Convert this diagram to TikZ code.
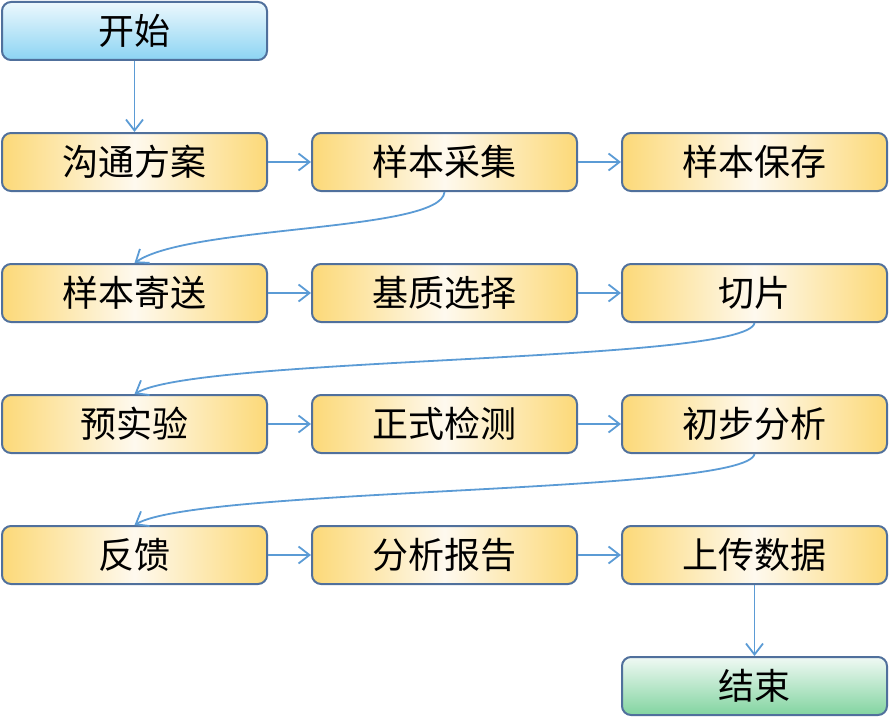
\documentclass[tikz,border=0pt]{standalone}
\usepackage{fontspec}
\newfontfamily\cjk{Noto Sans CJK SC}
\usetikzlibrary{arrows.meta}
\definecolor{bord}{RGB}{80,112,156}
\definecolor{arr}{RGB}{91,155,213}
\definecolor{ylw}{RGB}{252,217,120}
\definecolor{ymid}{RGB}{254,249,238}
\definecolor{bluetop}{RGB}{236,248,253}
\definecolor{bluebot}{RGB}{140,212,243}
\definecolor{greentop}{RGB}{240,249,244}
\definecolor{greenbot}{RGB}{130,212,160}
\tikzset{
  box/.style={draw=bord, line width=2pt, rounded corners=9pt,
    minimum width=265pt, minimum height=58pt, inner sep=0pt,
    font=\cjk\fontsize{36}{36}\selectfont, text=black},
  ybox/.style={box, left color=ylw, right color=ylw, middle color=ymid},
  sbox/.style={box, top color=bluetop, bottom color=bluebot},
  ebox/.style={box, top color=greentop, bottom color=greenbot},
  link/.style={draw=arr, line width=1.8pt,
    -{Straight Barb[length=11pt,width=17pt,line width=1.8pt]}}
}
\begin{document}
\begin{tikzpicture}[x=1pt,y=-1pt]
\useasboundingbox (0,0) rectangle (889,717);
\node[sbox] (start) at (134.5,31) {开始};
\node[ybox] (a1) at (134.5,162) {沟通方案};
\node[ybox] (a2) at (444.5,162) {样本采集};
\node[ybox] (a3) at (754.5,162) {样本保存};
\node[ybox] (b1) at (134.5,293) {样本寄送};
\node[ybox] (b2) at (444.5,293) {基质选择};
\node[ybox] (b3) at (754.5,293) {切片};
\node[ybox] (c1) at (134.5,424) {预实验};
\node[ybox] (c2) at (444.5,424) {正式检测};
\node[ybox] (c3) at (754.5,424) {初步分析};
\node[ybox] (d1) at (134.5,555) {反馈};
\node[ybox] (d2) at (444.5,555) {分析报告};
\node[ybox] (d3) at (754.5,555) {上传数据};
\node[ebox] (end) at (754.5,686) {结束};

\draw[link] (start) -- (a1);
\draw[link] (a1) -- (a2);
\draw[link] (a2) -- (a3);
\draw[link] (b1) -- (b2);
\draw[link] (b2) -- (b3);
\draw[link] (c1) -- (c2);
\draw[link] (c2) -- (c3);
\draw[link] (d1) -- (d2);
\draw[link] (d2) -- (d3);
\draw[link] (d3) -- (end);
\draw[link] (a2.south) .. controls +(-3,40) and +(55,-38) .. (b1.north);
\draw[link] (b3.south) .. controls +(-8,40) and +(65,-38) .. (c1.north);
\draw[link] (c3.south) .. controls +(-8,40) and +(65,-38) .. (d1.north);
\end{tikzpicture}
\end{document}
